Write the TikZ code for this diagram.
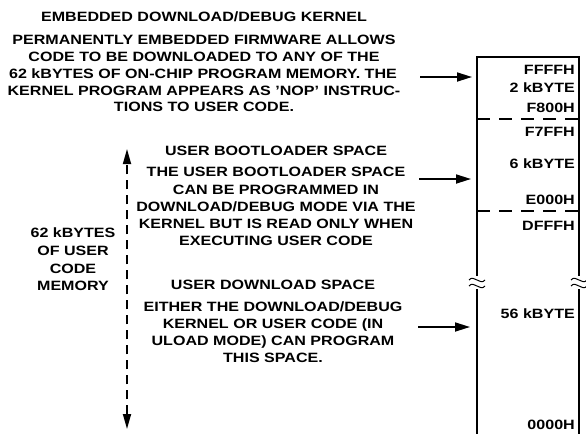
\documentclass[tikz,border=0pt]{standalone}
\usepackage{fontspec}
\usepackage{graphicx}
\setmainfont{Liberation Sans}
\usetikzlibrary{arrows.meta}
\newcommand\sx[1]{\scalebox{1.19}[1]{#1}}
\begin{document}
\begin{tikzpicture}[x=1pt,y=-1pt,
  txt/.style={font=\fontsize{13.5}{16}\selectfont\bfseries, inner sep=0pt, anchor=base},
  rtxt/.style={txt, anchor=base east},
  boxline/.style={line width=1.7pt},
  sepline/.style={line width=1.5pt, dash pattern=on 13pt off 9pt},
  arr/.style={line width=1.7pt, -{Triangle[length=15pt,width=9pt]}},
  span/.style={line width=1.7pt, dash pattern=on 9pt off 6pt, {Triangle[length=15pt,width=8pt]}-{Triangle[length=15pt,width=8pt]}},
  brk/.style={line width=1pt}
]
\useasboundingbox (0,0) rectangle (586,434);

% top block
\node[txt] (k0) at (204,21.5) {\sx{EMBEDDED DOWNLOAD/DEBUG KERNEL}};
\node[txt] (k1) at (204,44) {\sx{PERMANENTLY EMBEDDED FIRMWARE ALLOWS}};
\node[txt] (k2) at (204,61) {\sx{CODE TO BE DOWNLOADED TO ANY OF THE}};
\node[txt] (k3) at (203,78) {\sx{62 kBYTES OF ON-CHIP PROGRAM MEMORY. THE}};
\node[txt] (k4) at (204,95) {\sx{KERNEL PROGRAM APPEARS AS 'NOP' INSTRUC-}};
\node[txt] (k5) at (204,111.5) {\sx{TIONS TO USER CODE.}};

% bootloader block
\node[txt] (b0) at (276,155.5) {\sx{USER BOOTLOADER SPACE}};
\node[txt] (b1) at (276,176.5) {\sx{THE USER BOOTLOADER SPACE}};
\node[txt] (b2) at (276,194) {\sx{CAN BE PROGRAMMED IN}};
\node[txt] (b3) at (276,211) {\sx{DOWNLOAD/DEBUG MODE VIA THE}};
\node[txt] (b4) at (276,228) {\sx{KERNEL BUT IS READ ONLY WHEN}};
\node[txt] (b5) at (276,245) {\sx{EXECUTING USER CODE}};

% download block
\node[txt] (d0) at (273,289.5) {\sx{USER DOWNLOAD SPACE}};
\node[txt] (d1) at (273,311.5) {\sx{EITHER THE DOWNLOAD/DEBUG}};
\node[txt] (d2) at (273,328.5) {\sx{KERNEL OR USER CODE (IN}};
\node[txt] (d3) at (273,345.5) {\sx{ULOAD MODE) CAN PROGRAM}};
\node[txt] (d4) at (273,362.5) {\sx{THIS SPACE.}};

% left label
\node[txt] (m1) at (73,237.5) {\sx{62 kBYTES}};
\node[txt] (m2) at (73,255.5) {\sx{OF USER}};
\node[txt] (m3) at (73,273) {\sx{CODE}};
\node[txt] (m4) at (73,290.5) {\sx{MEMORY}};

% span arrow
\coordinate (spt) at (127,149);
\coordinate (spb) at (127,429);
\draw[span] (spb) -- (spt);

% memory box
\coordinate (tl) at (477,57);
\coordinate (tr) at (579,57);
\coordinate (bl) at (477,434);
\coordinate (br) at (579,434);
\draw[boxline] (477,276) -- (tl) -- (tr) -- (579,276);
\draw[boxline] (477,289) -- (bl);
\draw[boxline] (579,289) -- (br);
\foreach \x in {477,579}{
  \draw[brk] (\x-8,280) .. controls (\x-3,274) and (\x+3,286) .. (\x+8,280);
  \draw[brk] (\x-8,286) .. controls (\x-3,280) and (\x+3,292) .. (\x+8,286);
}
\coordinate (s1l) at (477,119);
\coordinate (s1r) at (579,119);
\coordinate (s2l) at (477,211);
\coordinate (s2r) at (579,211);
\draw[sepline] (s1l) -- (s1r);
\draw[sepline] (s2l) -- (s2r);

% address labels
\node[rtxt] (a1) at (575,74) {\sx{FFFFH}};
\node[rtxt] (a2) at (575,92) {\sx{2 kBYTE}};
\node[rtxt] (a3) at (575,112) {\sx{F800H}};
\node[rtxt] (a4) at (575,136) {\sx{F7FFH}};
\node[rtxt] (a5) at (575,168) {\sx{6 kBYTE}};
\node[rtxt] (a6) at (575,204) {\sx{E000H}};
\node[rtxt] (a7) at (575,230) {\sx{DFFFH}};
\node[rtxt] (a8) at (575,318) {\sx{56 kBYTE}};
\node[rtxt] (a9) at (575,429) {\sx{0000H}};

% arrows
\coordinate (p1) at (420,77);
\coordinate (q1) at (472,77);
\coordinate (p2) at (419,179);
\coordinate (q2) at (471,179);
\coordinate (p3) at (418,327);
\coordinate (q3) at (470,327);
\draw[arr] (p1) -- (q1);
\draw[arr] (p2) -- (q2);
\draw[arr] (p3) -- (q3);
\end{tikzpicture}
\end{document}
